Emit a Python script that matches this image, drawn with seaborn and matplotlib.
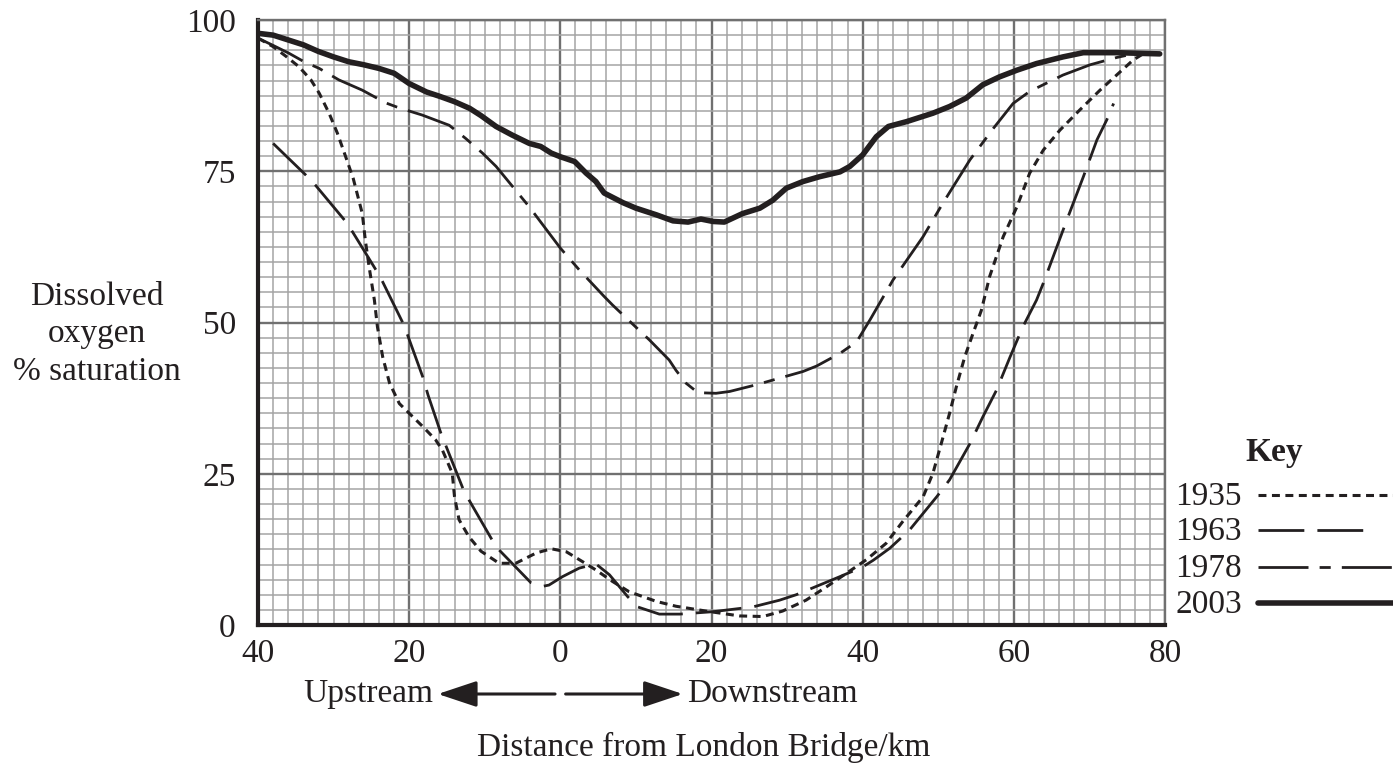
import numpy as np
import pandas as pd
import matplotlib.pyplot as plt
from matplotlib.lines import Line2D
import matplotlib.transforms as mtrans
import seaborn as sns

# --- data (distance from London Bridge, km; upstream < 0) ---
x_1935 = [-40, -38, -36.3, -34.6, -33, -31.9, -30.6, -29.5, -28.4, -27.4, -26.2, -25.8,
          -25.3, -24.6, -24.2, -23.5, -22.6, -21.3, -20, -18.2, -16.5, -15.6, -14.3, -14,
          -13.4, -12.1, -10.5, -8.1, -5.9, -3.2, -1.2, 0.8, 2.9, 4.7, 6.9, 9.1, 12.7, 15.3,
          19.3, 23.7, 26.8, 29.4, 32.5, 35.2, 37.8, 40.5, 43.1, 45.3, 48, 49.3, 50.4, 51.5,
          52.4, 53.5, 54.6, 55.7, 56.8, 58.6, 60.4, 62.1, 63.9, 66.1, 68.7, 71.4, 73.6,
          75.8, 77.1, 79]
y_1935 = [97, 95.6, 94, 92.3, 90.1, 87.9, 84.6, 81.3, 77.4, 73.8, 68, 63.6,
          59.2, 53.7, 49.3, 44.3, 40, 36.6, 35, 32.8, 30.6, 28.9, 25.1, 21.2,
          17.4, 14.6, 12.2, 10.2, 10.2, 11.9, 12.6, 12.1, 10.5, 9.1, 7.2, 5.5, 3.9, 3.1,
          2.3, 1.5, 1.4, 2.3, 4.1, 6.3, 8.5, 10.8, 13.5, 17.1, 21.2, 25.1, 30, 35,
          39.4, 44.3, 48.2, 52, 57.6, 64.2, 69.1, 74.7, 78.5, 81.8, 85.1, 88.4, 90.9,
          93.4, 94.4, 94.6]

x_1963 = [-38, -33.7, -32.4, -28.4, -27.5, -24.4, -23.5, -20.9, -20.2, -18.2, -17.5,
          -15.8, -15.1, -12.9, -12.1, -9, -8.1, -3.9, -2.3, -1.5, 0.3, 2.5, 4.7, 6.5, 8.9,
          10.2, 13.1, 15.8, 20.2, 25.5, 29, 31.2, 37, 40, 41.4, 43.6, 46.2, 49.8, 51.5,
          54.2, 55.9, 57.7, 59.5, 61.2, 63, 63.9, 67, 69.2, 71, 72.3, 73.2]
y_1963 = [79.6, 74.4, 72.7, 66.7, 65, 58.7, 56.7, 50.1, 47.9, 41, 38,
          31.7, 29.5, 22.6, 20.7, 14, 12.4, 7, 6.4, 6.6, 8, 9.4, 10.1, 8.3, 4.7,
          3, 1.8, 1.8, 2.2, 3.0, 4.1, 5, 8, 9.6, 10.7, 12.7, 15.7, 21.2, 24,
          30, 34.4, 38.8, 44.3, 49.3, 53.7, 56.5, 66.9, 74.1, 80.2, 83.5, 86.2]

x_1978 = [-40, -38, -35.9, -33.9, -31.9, -29.3, -26.2, -23.1, -21.6, -19.6, -18.3, -14.7,
          -12.5, -10.3, -8.5, -4.1, 0, 2.5, 5.8, 6.9, 11.8, 14.4, 15.3, 16.6, 18.2, 20.6,
          22.4, 25.9, 32.1, 33.9, 37, 39.2, 41, 44, 48, 50.6, 54.2, 57.3, 59.9, 62.1, 63.9,
          66.5, 70.1, 73.6, 75.8, 79]
y_1978 = [97, 95.8, 94.5, 93.1, 92, 90.1, 88.4, 86.3, 85.6, 84.8, 84.3, 82.6,
          80.4, 78, 75.8, 69.1, 62.3, 58.7, 54.3, 52.9, 47.1, 43.8, 42.1, 40, 38.4, 38.3,
          38.6, 39.7, 41.9, 42.8, 44.9, 46.8, 50.5, 57, 64.2, 69.7, 76.9, 82.1, 86.2, 88.2,
          89.3, 90.9, 92.6, 93.8, 94.4, 94.5]

x_2003 = [-40, -38, -36, -34, -32, -30, -28, -26, -24, -22, -20, -17.7, -16, -14, -12,
          -10.5, -8.5, -6.4, -4.1, -2.6, -1.2, 0, 1.9, 3.4, 4.7, 5.8, 8.3, 10, 12.7, 14.9,
          16.9, 18.6, 20.2, 21.7, 24.1, 26.4, 28.1, 29.9, 32.1, 34.3, 37, 38.3, 40, 41.8,
          43.4, 45.8, 49.3, 51.5, 53.7, 55.9, 58.1, 60.4, 63, 66.5, 69.2, 73.6, 79.3]
y_2003 = [97.8, 97.5, 96.7, 95.9, 94.8, 93.9, 93.1, 92.6, 92.0, 91.2, 89.5, 88.1, 87.4, 86.5, 85.4,
          84.2, 82.4, 81, 79.6, 79.1, 78, 77.4, 76.6, 74.7, 73.3, 71.4, 69.8, 68.9, 67.8, 66.8,
          66.6, 67.1, 66.7, 66.6, 68, 68.9, 70.2, 72.2, 73.3, 74.1, 74.9, 75.8, 77.7, 80.7,
          82.4, 83.2, 84.6, 85.7, 87.1, 89.3, 90.6, 91.7, 92.8, 93.9, 94.6, 94.6, 94.4]

years = ["1935", "1963", "1978", "2003"]
x_ticks = [-40, -20, 0, 20, 40, 60, 80]
x_ticklabels = ["40", "20", "0", "20", "40", "60", "80"]
y_ticks = [0, 25, 50, 75, 100]

series = {"1935": (x_1935, y_1935), "1963": (x_1963, y_1963),
          "1978": (x_1978, y_1978), "2003": (x_2003, y_2003)}
df = pd.concat([pd.DataFrame({"km": xs, "oxygen": ys, "year": yr})
                for yr, (xs, ys) in series.items()], ignore_index=True)

# --- styles ---
INK = "#231f20"
dashes = {"1935": (2.6, 1.8), "1963": (16.5, 4.7), "1978": (18, 4, 4, 4), "2003": ""}
widths = {"1935": 2.2, "1963": 2.0, "1978": 2.0, "2003": 4.0}

sns.set_style("white")
plt.rcParams["font.family"] = ["Liberation Serif", "DejaVu Serif"]

W, H = 1393, 771
fx = lambda px: px / W
fy = lambda py: 1 - py / H

fig = plt.figure(figsize=(W / 100, H / 100), dpi=100)
ax = fig.add_axes([fx(258), fy(625), (1165 - 258) / W, (625 - 20) / H])

sns.lineplot(data=df, x="km", y="oxygen", hue="year", style="year", size="year",
             palette={y: INK for y in years}, dashes=dashes, sizes=widths,
             estimator=None, sort=False, legend=False, ax=ax, zorder=3)

ax.set_xlim(-40, 80)
ax.set_ylim(0, 100)
ax.set_xticks(x_ticks)
ax.set_xticklabels(x_ticklabels)
ax.set_yticks(y_ticks)
ax.set_xticks(np.arange(-40, 81, 2), minor=True)
ax.set_yticks(np.arange(0, 101, 2.5), minor=True)
ax.grid(which="minor", color="#a4a4a4", lw=1.1)
ax.grid(which="major", color="#707070", lw=1.7)
ax.set_axisbelow(True)
ax.tick_params(which="minor", length=0)
ax.tick_params(axis="x", which="major", length=8, width=1.8, color=INK, pad=2,
               labelsize=24, labelcolor=INK)
ax.tick_params(axis="y", which="major", length=12, width=1.8, color=INK, pad=4,
               labelsize=24, labelcolor=INK)
ax.set_xlabel("")
ax.set_ylabel("")
for s in ["left", "bottom"]:
    ax.spines[s].set_color(INK)
    ax.spines[s].set_linewidth(3.0)
for s in ["top", "right"]:
    ax.spines[s].set_color("#707070")
    ax.spines[s].set_linewidth(1.7)

# y label
fig.text(fx(97), fy(334), "Dissolved\noxygen\n% saturation", ha="center", va="center",
         fontsize=24, color=INK, linespacing=1.3)

# upstream / downstream arrows
trans = mtrans.blended_transform_factory(ax.transData, fig.transFigure)
ya = fy(694)
ax.text(-16.8, ya, "Upstream", transform=trans, ha="right", va="center",
        fontsize=24, color=INK)
ax.text(16.8, ya, "Downstream", transform=trans, ha="left", va="center",
        fontsize=24, color=INK)
arrow = dict(arrowstyle="-|>,head_length=1.2,head_width=0.4", color=INK, lw=2.2,
             shrinkA=0, shrinkB=0, mutation_scale=20)
ax.annotate("", xy=(-16.2, ya), xytext=(-0.7, ya), xycoords=trans, textcoords=trans,
            arrowprops=arrow, annotation_clip=False)
ax.annotate("", xy=(16.2, ya), xytext=(0.7, ya), xycoords=trans, textcoords=trans,
            arrowprops=arrow, annotation_clip=False)
fig.text(fx(704), fy(747), "Distance from London Bridge/km", ha="center", va="center",
         fontsize=24, color=INK)

# key
fig.text(fx(1274), fy(452), "Key", ha="center", va="center", fontsize=24,
         fontweight="bold", color=INK)
key_rows = [("1935", 497, 1393), ("1963", 532, 1363), ("1978", 569, 1393), ("2003", 605, 1393)]
for yr, py, x_end in key_rows:
    fig.text(fx(1242), fy(py), yr, ha="right", va="center", fontsize=24, color=INK)
    ls = "-" if dashes[yr] == "" else (0, dashes[yr])
    fig.add_artist(Line2D([fx(1258), fx(x_end)], [fy(py - 2), fy(py - 2)],
                          transform=fig.transFigure, color=INK, lw=widths[yr], ls=ls))

fig.savefig("out.png", dpi=100)
